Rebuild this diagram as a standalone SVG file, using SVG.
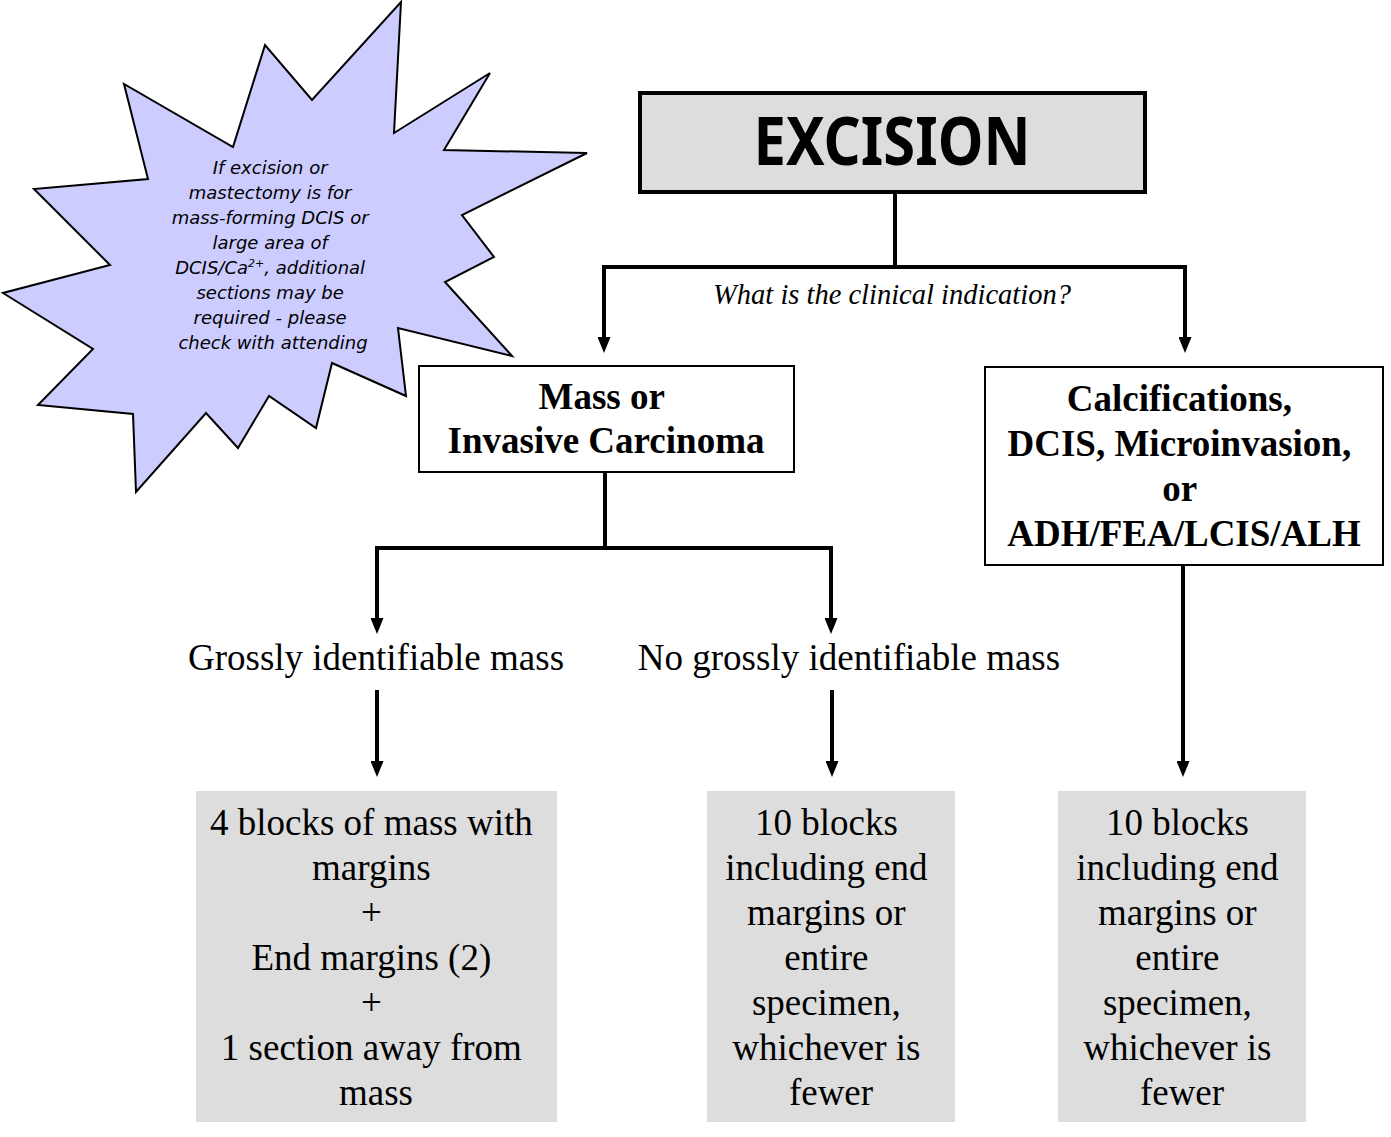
<svg xmlns="http://www.w3.org/2000/svg" width="1391" height="1137" viewBox="0 0 1391 1137">
<style>
.conn{fill:none;stroke:#000;stroke-width:4;stroke-linejoin:miter}
.arr{marker-end:url(#ah)}
.serif{font-family:"Liberation Serif","Times New Roman",serif;fill:#000}
.bold{font-weight:bold}
.note{font-family:"DejaVu Sans","Noto Sans",sans-serif;font-style:italic;font-size:18px;fill:#000}
.grey{fill:#DDDDDD}
.box{fill:#fff;stroke:#000;stroke-width:2}
</style>
<defs>
<marker id="ah" viewBox="0 0 16 13" markerWidth="16" markerHeight="13" refX="6" refY="6.5" orient="auto" markerUnits="userSpaceOnUse">
<path d="M0,0 L16,6.5 L0,13 z" fill="#000"/>
</marker>
</defs>
<rect width="1391" height="1137" fill="#fff"/>

<g id="note">
<polygon points="401,2 394,133 490,73 444,150 587,153 462,215 494,257 445,282 512,356 398,328 406,396 332,363 316,428 269,396 238,448 206,413 136,492 133,414 38,405 93,349 3,293 110,265 34,189 148,179 124,84 233,147 265,45 312,100" fill="#CCCCFF" stroke="#000" stroke-width="2" stroke-linejoin="miter"/>
<text class="note" text-anchor="middle">
<tspan x="273" y="174">If excision or</tspan>
<tspan x="273" y="199">mastectomy is for</tspan>
<tspan x="273" y="224">mass-forming DCIS or</tspan>
<tspan x="273" y="249">large area of</tspan>
<tspan x="273" y="274">DCIS/Ca<tspan font-size="11" dy="-7">2+</tspan><tspan dy="7">, additional</tspan></tspan>
<tspan x="273" y="299">sections may be</tspan>
<tspan x="273" y="324">required - please</tspan>
<tspan x="273" y="349">check with attending</tspan>
</text>
</g>

<g id="excision">
<rect x="640" y="93" width="505" height="99" fill="#DDDDDD" stroke="#000" stroke-width="4"/>
<text x="892" y="165" text-anchor="middle" font-family="'Noto Sans','DejaVu Sans',sans-serif" font-weight="bold" font-size="66" textLength="277" lengthAdjust="spacingAndGlyphs">EXCISION</text>
</g>

<g id="connectors">
<path class="conn" d="M895,192 V267"/>
<path class="conn arr" d="M897,267 H604 V343"/>
<path class="conn arr" d="M893,267 H1185 V343"/>
<path class="conn" d="M605,472 V548"/>
<path class="conn arr" d="M607,548 H377 V624"/>
<path class="conn arr" d="M603,548 H831 V624"/>
<path class="conn arr" d="M377,690 V767"/>
<path class="conn arr" d="M832,690 V767"/>
<path class="conn arr" d="M1183,565 V767"/>
</g>

<g id="question">
<text class="serif" x="892" y="304" text-anchor="middle" font-style="italic" font-size="28.5">What is the clinical indication?</text>
</g>

<g id="mass">
<rect class="box" x="419" y="366" width="375" height="106"/>
<text class="serif bold" text-anchor="middle" font-size="37">
<tspan x="606" y="409">Mass or</tspan>
<tspan x="606" y="453">Invasive Carcinoma</tspan>
</text>
</g>

<g id="calc">
<rect class="box" x="985" y="367" width="398" height="198"/>
<text class="serif bold" text-anchor="middle" font-size="37">
<tspan x="1184" y="411">Calcifications,</tspan>
<tspan x="1184" y="456">DCIS, Microinvasion,</tspan>
<tspan x="1184" y="501">or</tspan>
<tspan x="1184" y="546">ADH/FEA/LCIS/ALH</tspan>
</text>
</g>

<g id="gross">
<text class="serif" x="376" y="670" text-anchor="middle" font-size="37">Grossly identifiable mass</text>
</g>
<g id="nogross">
<text class="serif" x="849" y="670" text-anchor="middle" font-size="37">No grossly identifiable mass</text>
</g>

<g id="result1">
<rect class="grey" x="196" y="791" width="361" height="331"/>
<text class="serif" text-anchor="middle" font-size="37">
<tspan x="376" y="835">4 blocks of mass with</tspan>
<tspan x="376" y="880">margins</tspan>
<tspan x="376" y="925">+</tspan>
<tspan x="376" y="970">End margins (2)</tspan>
<tspan x="376" y="1015">+</tspan>
<tspan x="376" y="1060">1 section away from</tspan>
<tspan x="376" y="1105">mass</tspan>
</text>
</g>

<g id="result2">
<rect class="grey" x="707" y="791" width="248" height="331"/>
<text class="serif" text-anchor="middle" font-size="37">
<tspan x="831" y="835">10 blocks</tspan>
<tspan x="831" y="880">including end</tspan>
<tspan x="831" y="925">margins or</tspan>
<tspan x="831" y="970">entire</tspan>
<tspan x="831" y="1015">specimen,</tspan>
<tspan x="831" y="1060">whichever is</tspan>
<tspan x="831" y="1105">fewer</tspan>
</text>
</g>

<g id="result3">
<rect class="grey" x="1058" y="791" width="248" height="331"/>
<text class="serif" text-anchor="middle" font-size="37">
<tspan x="1182" y="835">10 blocks</tspan>
<tspan x="1182" y="880">including end</tspan>
<tspan x="1182" y="925">margins or</tspan>
<tspan x="1182" y="970">entire</tspan>
<tspan x="1182" y="1015">specimen,</tspan>
<tspan x="1182" y="1060">whichever is</tspan>
<tspan x="1182" y="1105">fewer</tspan>
</text>
</g>
</svg>
